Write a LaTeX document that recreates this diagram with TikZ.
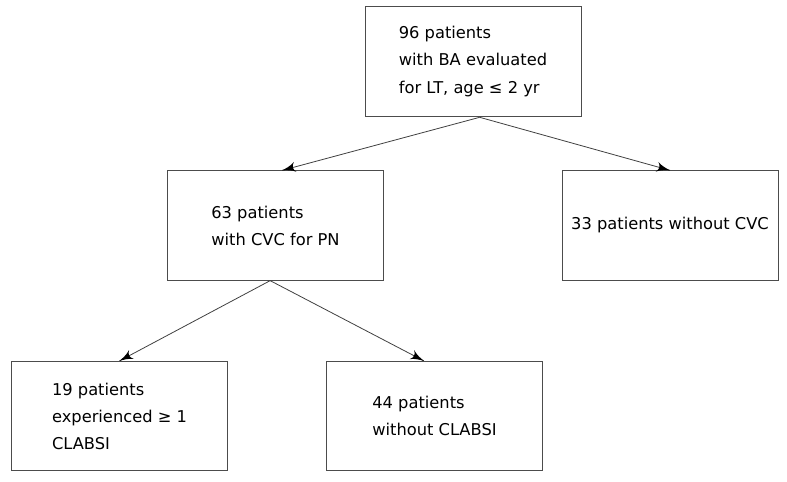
\documentclass[tikz,border=0pt]{standalone}
\usepackage{fontspec}
\setmainfont{DejaVu Sans}
\usetikzlibrary{arrows}
\usetikzlibrary{decorations.markings}
\tikzset{arrowline/.style = {draw=black!75, line width=0.6pt,
                             decoration={markings,
                                         mark=at position 1 with {\arrow[scale=2.2, black]{latex'}}},
                             postaction={decorate}}}
\tikzset{box/.style = {draw=black!70, line width=0.7pt, align=left, inner sep=0,
                       minimum width=161.5pt, minimum height=82pt,
                       font=\fontsize{12.2}{20.3}\selectfont}}

\begin{document}
\begin{tikzpicture}[x=0.75pt, y=-0.75pt]
      \useasboundingbox (0, 0) rectangle (787, 481);
      \node [box, minimum width=162pt, minimum height=83pt] (all) at (473, 61.5)
            {96 patients\\with BA evaluated\\for LT, age ≤ 2 yr};
      \node [box] (cvc) at (275.5, 225.5) {63 patients\\with CVC for PN};
      \node [box, minimum width=162pt] (nocvc) at (670, 225.5) {33 patients without CVC};
      \node [box] (clabsi) at (119.5, 416) {19 patients\\experienced ≥ 1\\CLABSI};
      \node [box] (noclabsi) at (434.5, 416) {44 patients\\without CLABSI};
      \draw [arrowline] ([xshift=5pt]all.south) -- ([xshift=5pt]cvc.north);
      \draw [arrowline] ([xshift=5pt]all.south) -- (nocvc.north);
      \draw [arrowline] ([xshift=-4pt]cvc.south) -- (clabsi.north);
      \draw [arrowline] ([xshift=-4pt]cvc.south) -- ([xshift=-8pt]noclabsi.north);
    \end{tikzpicture}
\end{document}
